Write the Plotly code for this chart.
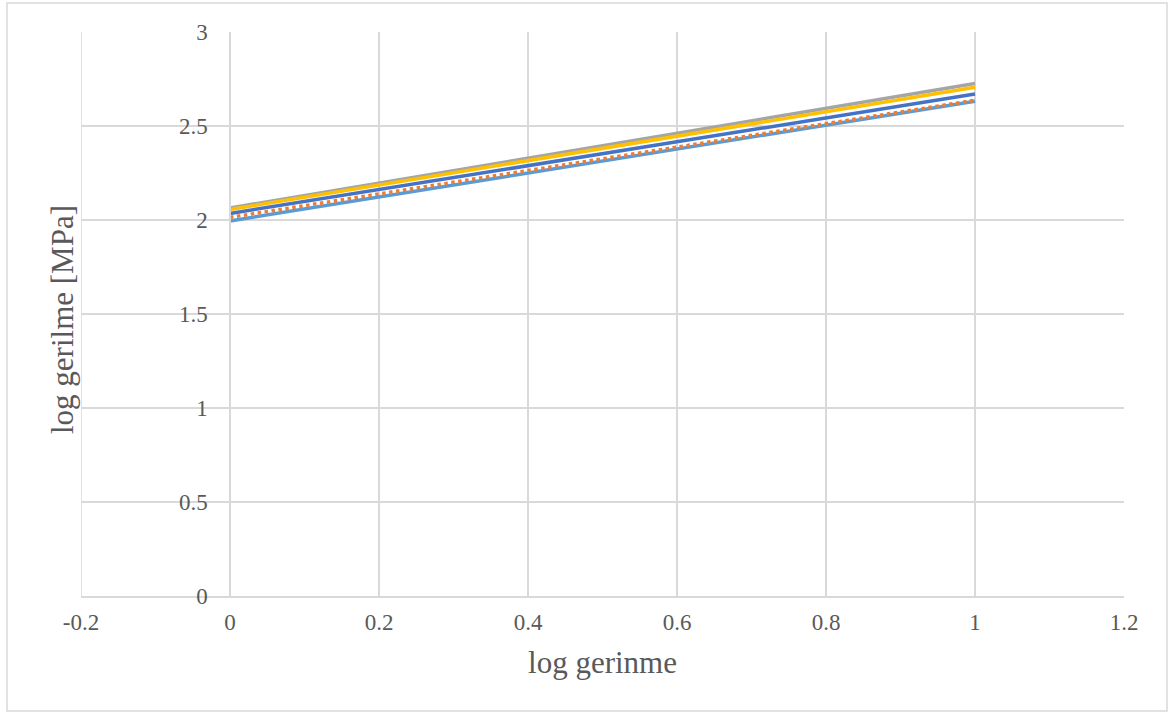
import plotly.graph_objects as go

# log strain (x) and log stress (y) for each series
log_strain = [0, 1]
series_names = ["Seri 1", "Seri 2", "Seri 3", "Seri 4", "Seri 5"]
series_colors = ["#A5A5A5", "#FFC000", "#4472C4", "#5B9BD5", "#ED7D31"]
series_dash = ["solid", "solid", "solid", "solid", "dot"]
log_stress = [
    [2.064, 2.726],   # gray
    [2.056, 2.706],   # gold
    [2.035, 2.670],   # blue
    [1.995, 2.632],   # light blue
    [2.014, 2.637],   # orange, dotted
]

x_ticks = [-0.2, 0, 0.2, 0.4, 0.6, 0.8, 1, 1.2]
x_tick_text = ["-0.2", "0", "0.2", "0.4", "0.6", "0.8", "1", "1.2"]
y_ticks = [0, 0.5, 1, 1.5, 2, 2.5, 3]
y_tick_text = ["0", "0.5", "1", "1.5", "2", "2.5", "3"]

FONT = "Liberation Serif"
TXT = "#595959"
GRID = "#d9d9d9"

fig = go.Figure()
for name, color, dash, ys in zip(series_names, series_colors, series_dash, log_stress):
    fig.add_trace(go.Scatter(
        x=log_strain, y=ys, mode="lines", name=name,
        line=dict(color=color, width=3.5, dash=dash),
        showlegend=False, hoverinfo="skip",
    ))

x_min, x_max = -0.2, 1.2
# place the value axis where the category axis crosses x = 0
y_axis_pos = (0 - x_min) / (x_max - x_min)

fig.update_layout(
    width=1173, height=716,
    margin=dict(l=81, r=49, t=32, b=120),
    paper_bgcolor="white", plot_bgcolor="white",
    font=dict(family=FONT, color=TXT),
    xaxis=dict(
        range=[x_min, x_max], tickvals=x_ticks, ticktext=x_tick_text,
        showgrid=True, gridcolor=GRID, gridwidth=1.5,
        zeroline=False, showline=True, linecolor=GRID, linewidth=1.5,
        tickfont=dict(size=23, color=TXT, family=FONT),
        ticklabelstandoff=5,
        title=dict(text="log gerinme", font=dict(size=31, color=TXT, family=FONT), standoff=17),
    ),
    yaxis=dict(
        range=[0, 3], tickvals=y_ticks, ticktext=y_tick_text,
        showgrid=True, gridcolor=GRID, gridwidth=1.5,
        zeroline=False, showline=True, linecolor=GRID, linewidth=1.5,
        anchor="free", position=y_axis_pos,
        tickfont=dict(size=23, color=TXT, family=FONT),
        ticklabelstandoff=17,
    ),
    annotations=[dict(
        text="log gerilme [MPa]", xref="paper", yref="paper",
        x=(62 - 81) / 1043, y=(596 - 320) / 564, textangle=-90, showarrow=False,
        xanchor="center", yanchor="middle",
        font=dict(size=31, color=TXT, family=FONT),
    )],
    shapes=[
        # left edge of the plot area
        dict(type="line", xref="x", yref="paper", x0=x_min, x1=x_min, y0=0, y1=1,
             line=dict(color=GRID, width=1.5), layer="below"),
        # chart border
        dict(type="rect", xref="paper", yref="paper",
             x0=(7 - 81) / 1043, x1=(1167 - 81) / 1043,
             y0=(596 - 711) / 564, y1=(596 - 3) / 564,
             line=dict(color=GRID, width=1.5), fillcolor="rgba(0,0,0,0)"),
    ],
)

fig.write_html("out.html")
